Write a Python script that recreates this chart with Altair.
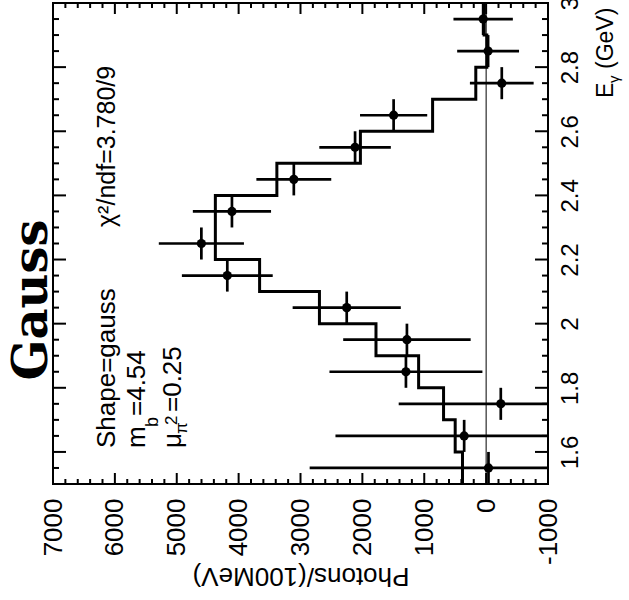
import altair as alt
import pandas as pd

FONT = "Liberation Sans"

# ---- data ----
E_center = [1.55, 1.65, 1.75, 1.85, 1.95, 2.05, 2.15, 2.25, 2.35, 2.45, 2.55, 2.65, 2.75, 2.85, 2.95]
photons = [-38, 355, -237, 1296, 1280, 2253, 4183, 4602, 4108, 3108, 2118, 1495, -253, -32, 48]
photons_err = [2890, 2080, 1650, 1236, 1030, 874, 734, 688, 632, 605, 578, 543, 515, 500, 480]
fit_hist = [382, 500, 688, 1091, 1780, 2694, 3661, 4376, 4376, 3382, 2032, 865, 167, -11, 32]
bin_half = 0.05

# axis tick values
E_major = [1.6, 1.8, 2.0, 2.2, 2.4, 2.6, 2.8, 3.0]
E_minor = [1.55, 1.65, 1.7, 1.75, 1.85, 1.9, 1.95, 2.05, 2.1, 2.15, 2.25, 2.3, 2.35,
           2.45, 2.5, 2.55, 2.65, 2.7, 2.75, 2.85, 2.9, 2.95]
P_major = [-1000, 0, 1000, 2000, 3000, 4000, 5000, 6000, 7000]
P_minor = [-800, -600, -400, -200, 200, 400, 600, 800, 1200, 1400, 1600, 1800,
           2200, 2400, 2600, 2800, 3200, 3400, 3600, 3800, 4200, 4400, 4600, 4800,
           5200, 5400, 5600, 5800, 6200, 6400, 6600, 6800]

W, H = 495, 481

pts = pd.DataFrame({"E": E_center, "N": photons, "err": photons_err})
pts["lo"] = pts["N"] - pts["err"]
pts["hi"] = pts["N"] + pts["err"]
pts["Elo"] = pts["E"] - bin_half
pts["Ehi"] = pts["E"] + bin_half

rows = []
for i, (e, v) in enumerate(zip(E_center, fit_hist)):
    rows.append({"E": e - bin_half, "N": v, "k": 2 * i})
    rows.append({"E": e + bin_half, "N": v, "k": 2 * i + 1})
hist = pd.DataFrame(rows)

xs = alt.Scale(domain=[-1000, 7000], reverse=True, nice=False, zero=False)
ys = alt.Scale(domain=[1.5, 3.0], nice=False, zero=False)

x_axis = alt.Axis(values=P_major, labelExpr="datum.value + ''", labelAngle=270,
                  labelAlign="right", labelBaseline="middle",
                  labelFont=FONT, labelFontSize=26, labelColor="black", labelPadding=14,
                  labelFlush=False, labelOverlap=False, ticks=False, domain=False, grid=False,
                  title="Photons/(100MeV)", titleFont=FONT, titleFontSize=26,
                  titleFontWeight="normal", titleColor="black", titleAngle=180,
                  titleAlign="center", titleBaseline="middle", titleX=W / 2, titleY=91)
y_axis = alt.Axis(orient="right", values=E_major, labelExpr="datum.value + ''",
                  labelAngle=270, labelAlign="center", labelBaseline="top",
                  labelFont=FONT, labelFontSize=24, labelColor="black", labelPadding=10,
                  labelFlush=False, labelOverlap=False, ticks=False, domain=False,
                  grid=False, title=None)

dots = alt.Chart(pts).mark_circle(size=85, color="black", opacity=1).encode(
    x=alt.X("N:Q", scale=xs, axis=x_axis),
    y=alt.Y("E:Q", scale=ys, axis=y_axis),
)
herr = alt.Chart(pts).mark_rule(color="black", strokeWidth=2.7, clip=True).encode(
    x=alt.X("lo:Q", scale=xs, axis=x_axis), x2="hi:Q",
    y=alt.Y("E:Q", scale=ys, axis=y_axis),
)
verr = alt.Chart(pts).mark_rule(color="black", strokeWidth=2.7, clip=True).encode(
    x=alt.X("N:Q", scale=xs, axis=x_axis),
    y=alt.Y("Elo:Q", scale=ys, axis=y_axis), y2="Ehi:Q",
)
histo = alt.Chart(hist).mark_line(color="black", strokeWidth=3, clip=True).encode(
    x=alt.X("N:Q", scale=xs, axis=x_axis),
    y=alt.Y("E:Q", scale=ys, axis=y_axis),
    order="k:Q",
)
zero_line = alt.Chart(pd.DataFrame({"z": [0]})).mark_rule(color="black", strokeWidth=1).encode(
    x=alt.X("z:Q", scale=xs, axis=x_axis),
)

# inward ticks
def eticks(vals, length):
    df = pd.DataFrame({"E": vals})
    left = alt.Chart(df).mark_rule(color="black", strokeWidth=2).encode(
        y=alt.Y("E:Q", scale=ys, axis=y_axis), x=alt.value(0), x2=alt.value(length))
    right = alt.Chart(df).mark_rule(color="black", strokeWidth=2).encode(
        y=alt.Y("E:Q", scale=ys, axis=y_axis), x=alt.value(W), x2=alt.value(W - length))
    return [left, right]

def pticks(vals, length):
    df = pd.DataFrame({"N": vals})
    top = alt.Chart(df).mark_rule(color="black", strokeWidth=2).encode(
        x=alt.X("N:Q", scale=xs, axis=x_axis), y=alt.value(0), y2=alt.value(length))
    bot = alt.Chart(df).mark_rule(color="black", strokeWidth=2).encode(
        x=alt.X("N:Q", scale=xs, axis=x_axis), y=alt.value(H), y2=alt.value(H - length))
    return [top, bot]

ticks = eticks(E_major, 13) + eticks(E_minor, 6) + pticks(P_major, 11) + pticks(P_minor, 5)

def label(txt, px, py, size=26, font=FONT, weight="normal", align="left"):
    return alt.Chart(pd.DataFrame({"t": [txt]})).mark_text(
        angle=270, align=align, baseline="alphabetic", font=font, fontSize=size,
        fontWeight=weight, color="black").encode(
        x=alt.value(px), y=alt.value(py), text="t:N")

texts = [
    label("Gauss", -6, 297, size=48, font="DejaVu Serif", weight="bold", align="center"),
    label("χ²/ndf=3.780/9", 62, 224, size=25),
    label("Shape=gauss", 62, 445),
    label("m", 92, 445),
    label("b", 105, 424, size=18),
    label("=4.54", 92, 413),
    label("μ", 128, 445),
    label("π", 134, 431, size=17),
    label("2", 124, 422, size=17),
    label("=0.25", 128, 409),
    label("E", 560, 95, size=23),
    label("γ", 566, 80, size=15),
    label("(GeV)", 560, 66, size=23),
]

chart = alt.layer(
    dots, zero_line, histo, herr, verr, *ticks, *texts
).properties(
    width=W, height=H,
    autosize=alt.AutoSizeParams(type="none"),
    padding={"left": 53, "top": 3, "right": 81, "bottom": 116},
    background="white",
).configure_view(stroke="black", strokeWidth=2)

chart.save("out.html", embed_options={"renderer": "svg", "actions": False})
